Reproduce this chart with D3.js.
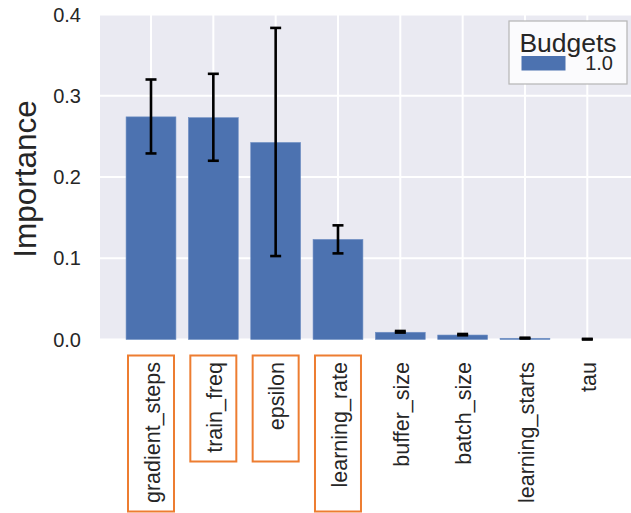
<!DOCTYPE html>
<html>
<head>
<meta charset="utf-8">
<script src="https://cdn.jsdelivr.net/npm/d3@7"></script>
<style>
  body { margin: 0; background: #ffffff; }
  text { font-family: "Liberation Sans", Arial, sans-serif; fill: #262626; }
</style>
</head>
<body>
<div id="chart"></div>
<script>
let categories = ["gradient_steps", "train_freq", "epsilon", "learning_rate", "buffer_size", "batch_size", "learning_starts", "tau"];
let importance = [0.274, 0.273, 0.2425, 0.1232, 0.0089, 0.0055, 0.0015, 0.0];
let err_low = [0.229, 0.220, 0.1027, 0.106, 0.0085, 0.0052, 0.0012, 0.0];
let err_high = [0.320, 0.327, 0.3835, 0.1405, 0.0105, 0.0068, 0.0022, 0.0008];
let y_ticks = [0.0, 0.1, 0.2, 0.3, 0.4];
let highlighted = ["gradient_steps", "train_freq", "epsilon", "learning_rate"];
let legend_title = "Budgets";
let legend_label = "1.0";

let chart_width = 631;
let chart_height = 513;
let bar_color = "#4c72b0";

let svg = d3.select("#chart")
    .append("svg")
    .attr("width", chart_width)
    .attr("height", chart_height);

let plot_left = 100;
let plot_top = 14.5;
let plot_bottom = 339.5;

let xScale = d3.scalePoint()
    .domain(categories)
    .range([151, 587.3]);
let step = xScale.step();
let bar_width = step * 0.8;

let yScale = d3.scaleLinear()
    .domain([0, 0.4])
    .range([plot_bottom, plot_top]);

// background
svg.append("rect")
    .attr("x", plot_left)
    .attr("y", plot_top)
    .attr("width", chart_width - plot_left)
    .attr("height", plot_bottom - plot_top)
    .attr("fill", "#eaeaf2");

// grid
svg.append("g").selectAll("line")
    .data(y_ticks)
    .enter()
    .append("line")
    .attr("x1", plot_left)
    .attr("x2", chart_width)
    .attr("y1", function(d) { return yScale(d); })
    .attr("y2", function(d) { return yScale(d); })
    .attr("stroke", "white")
    .attr("stroke-width", 2);

svg.append("g").selectAll("line")
    .data(categories)
    .enter()
    .append("line")
    .attr("x1", function(d) { return xScale(d); })
    .attr("x2", function(d) { return xScale(d); })
    .attr("y1", plot_top)
    .attr("y2", plot_bottom)
    .attr("stroke", "white")
    .attr("stroke-width", 2);

// bars
svg.append("g").selectAll("rect")
    .data(categories)
    .enter()
    .append("rect")
    .attr("x", function(d) { return xScale(d) - bar_width / 2; })
    .attr("width", bar_width)
    .attr("y", function(d, i) { return yScale(importance[i]); })
    .attr("height", function(d, i) { return yScale(0) - yScale(importance[i]); })
    .attr("fill", bar_color)
    .attr("stroke", "#6f8fc4")
    .attr("stroke-width", 0.6);

// error bars
let errs = svg.append("g").selectAll("g")
    .data(categories)
    .enter()
    .append("g");

errs.append("line")
    .attr("x1", function(d) { return xScale(d); })
    .attr("x2", function(d) { return xScale(d); })
    .attr("y1", function(d, i) { return yScale(err_low[i]); })
    .attr("y2", function(d, i) { return yScale(err_high[i]); })
    .attr("stroke", "black")
    .attr("stroke-width", 2.6);

errs.selectAll(".cap")
    .data(function(d, i) { return [[d, err_low[i]], [d, err_high[i]]]; })
    .enter()
    .append("line")
    .attr("class", "cap")
    .attr("x1", function(d) { return xScale(d[0]) - 5.5; })
    .attr("x2", function(d) { return xScale(d[0]) + 5.5; })
    .attr("y1", function(d) { return yScale(d[1]); })
    .attr("y2", function(d) { return yScale(d[1]); })
    .attr("stroke", "black")
    .attr("stroke-width", 2.6);

// y axis labels
svg.append("g").selectAll("text")
    .data(y_ticks)
    .enter()
    .append("text")
    .attr("x", 81)
    .attr("y", function(d) { return yScale(d); })
    .attr("dy", "0.36em")
    .attr("text-anchor", "end")
    .style("font-size", "20px")
    .text(function(d) { return d.toFixed(1); });

svg.append("text")
    .attr("text-anchor", "middle")
    .attr("x", -179)
    .attr("y", 36)
    .attr("transform", "rotate(-90)")
    .style("font-size", "31.5px")
    .text("Importance");

// x labels (rotated)
svg.append("g").selectAll("text")
    .data(categories)
    .enter()
    .append("text")
    .attr("text-anchor", "end")
    .attr("transform", function(d) { return "translate(" + (xScale(d) + 1) + ",362) rotate(-90)"; })
    .attr("dy", "0.36em")
    .style("font-size", "21.5px")
    .text(function(d) { return d; });

// highlight boxes round the most important labels
svg.append("g").selectAll("rect")
    .data(highlighted)
    .enter()
    .append("rect")
    .attr("x", function(d) { return xScale(d) - 23; })
    .attr("y", 355.5)
    .attr("width", 46)
    .attr("height", function(d) { return (d == "train_freq" || d == "epsilon") ? 106 : 156; })
    .attr("fill", "none")
    .attr("stroke", "#ed7d31")
    .attr("stroke-width", 2);

// legend
let legend = svg.append("g").attr("transform", "translate(509,21)");
legend.append("rect")
    .attr("width", 118)
    .attr("height", 63)
    .attr("fill", "#fbfbfd")
    .attr("stroke", "#b5b5b5")
    .attr("stroke-width", 1.2);
legend.append("text")
    .attr("x", 59)
    .attr("y", 30.5)
    .attr("text-anchor", "middle")
    .style("font-size", "26.5px")
    .text(legend_title);
legend.append("rect")
    .attr("x", 12.5)
    .attr("y", 35)
    .attr("width", 44)
    .attr("height", 14.5)
    .attr("fill", bar_color);
legend.append("text")
    .attr("x", 104)
    .attr("y", 49)
    .attr("text-anchor", "end")
    .style("font-size", "20px")
    .text(legend_label);
</script>
</body>
</html>
